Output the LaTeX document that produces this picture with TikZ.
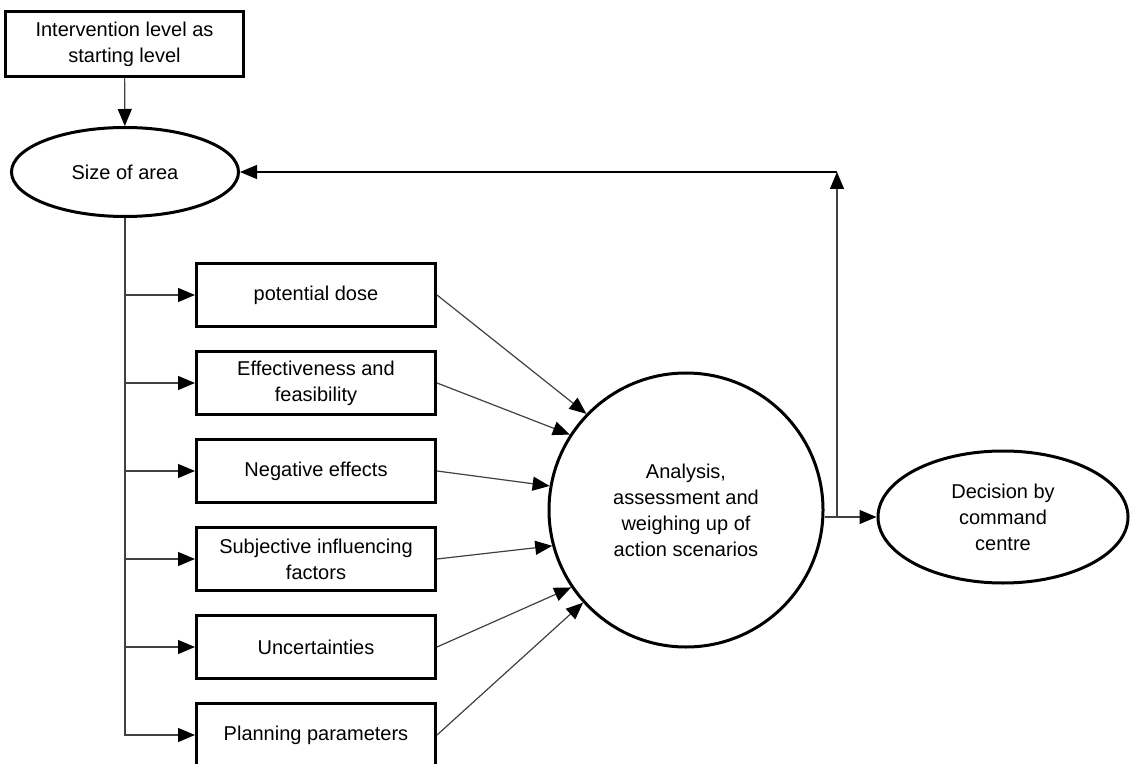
\documentclass[tikz,border=0pt]{standalone}
\usepackage{fontspec}
\setmainfont{Liberation Sans}
\usetikzlibrary{positioning}
\usetikzlibrary{shapes.geometric}
\usetikzlibrary{arrows.meta}
\tikzset{%
  arr/.style = {-{Triangle[length=8.5pt,width=7pt,black]},line width=0.6pt,draw=black!75},
  b/.style = {rectangle,draw,line width=1.5pt,minimum width=119.5pt,
        minimum height=31.5pt,align=center,inner sep=2pt},
  e/.style = {ellipse,draw,line width=1.5pt,align=center,inner sep=1pt},
  c/.style = {circle,draw,line width=1.5pt,minimum size=137pt,
        align=center,inner sep=1pt}
}

\begin{document}
\begin{tikzpicture}[x=0.5pt,y=-0.5pt,font=\fontsize{10}{13}\selectfont]
\useasboundingbox (0,0) rectangle (1134,764);
\node[b,minimum width=119pt,minimum height=32.5pt] (start) at (124.5,44) {Intervention level as\\starting level};
\node[e,minimum width=113.5pt,minimum height=44.5pt] (size) at (125,172) {Size of area};

\node[b] (dose) at (316,295) {potential dose};
\node[b,below=11pt of dose] (feas) {Effectiveness and\\feasibility};
\node[b,below=11pt of feas] (neg) {Negative effects};
\node[b,below=11pt of neg] (subj) {Subjective influencing\\factors};
\node[b,below=11pt of subj] (unc) {Uncertainties};
\node[b,below=11pt of unc] (plan) {Planning parameters};

\node[c] (circ) at (686,510) {Analysis,\\assessment and\\weighing up of\\action scenarios};
\node[e,minimum width=125pt,minimum height=66pt] (dec) at (1003,517) {Decision by\\command\\centre};

\coordinate (split) at (837,517);
\coordinate (fb) at (837,172);

% left trunk
\draw[arr] (start) -- (size);
\draw[arr] (size.south) |- (plan.west);
\foreach \n in {dose,feas,neg,subj,unc}
    \draw[arr] (size.south |- \n.west) -- (\n.west);

% into the circle
\draw[arr] (dose.east) -- (circ.136);
\draw[arr] (feas.east) -- (circ.147);
\draw[arr] (neg.east) -- (circ.170);
\draw[arr] (subj.east) -- (circ.195);
\draw[arr] (unc.east) -- (circ.214);
\draw[arr] (plan.east) -- (circ.222);

% out and back
\draw[arr] (dec.west -| circ.east) -- (dec.west);
\draw[arr] (split) -- (fb);
\draw[arr,draw=black] (fb) -- (size.east);
\end{tikzpicture}
\end{document}
